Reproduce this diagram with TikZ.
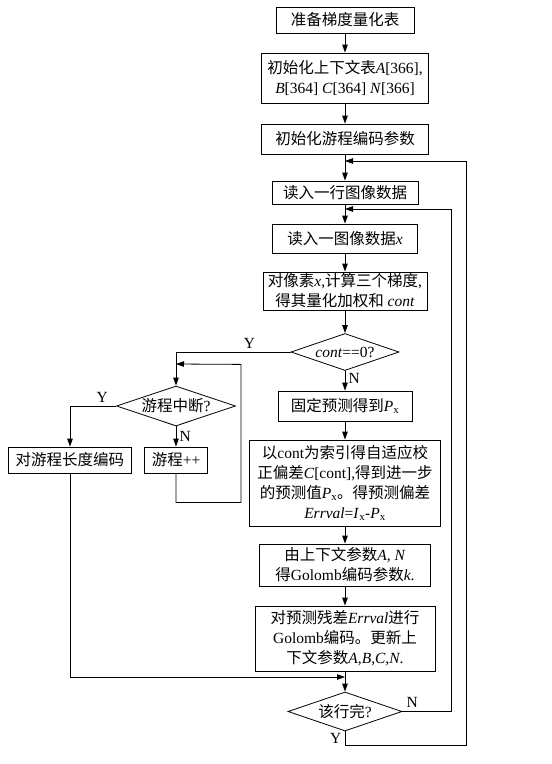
\documentclass[tikz,border=0pt]{standalone}
\usepackage{fontspec}
\setmainfont{Liberation Serif}
\newfontfamily\cjk{Noto Sans CJK SC}
\newcommand{\zh}[1]{{\cjk #1}}
\usetikzlibrary{shapes.geometric, arrows.meta}

\begin{document}
\begin{tikzpicture}[x=1pt, y=-1pt, font=\fontsize{15.5}{20}\selectfont,
                            box/.style={rectangle, draw, line width=0.8pt, align=center, inner sep=0pt},
                            decision/.style={diamond, draw, line width=0.8pt, aspect=3, inner sep=0pt},
                            line/.style={line width=0.8pt, -{Triangle[length=8pt, width=5.5pt]}}]
                            \useasboundingbox (0, 0) rectangle (552, 764);

                            \node (prep)[box, minimum width=138pt, minimum height=26pt] at (345, 20) {\zh{准备梯度量化表}};
                            \node (initctx)[box, minimum width=167pt, minimum height=50pt] at (345, 78) {\zh{初始化上下文表}\textit{A}[366],\\\textit{B}[364] \textit{C}[364] \textit{N}[366]};
                            \node (initrun)[box, minimum width=167pt, minimum height=30pt] at (345, 139) {\zh{初始化游程编码参数}};
                            \node (readrow)[box, minimum width=146pt, minimum height=23pt] at (345, 192.5) {\zh{读入一行图像数据}};
                            \node (readpix)[box, minimum width=145pt, minimum height=29pt] at (345, 238.5) {\zh{读入一图像数据}\textit{x}};
                            \node (grad)[box, minimum width=164pt, minimum height=38pt] at (345, 291) {\zh{对像素}\textit{x},\zh{计算三个梯度},\\\zh{得其量化加权和} \textit{cont}};
                            \node (cont)[decision, minimum width=108pt, minimum height=37pt] at (345, 352) {\textit{cont}==0?};
                            \node (fixed)[box, minimum width=134pt, minimum height=30pt] at (345, 406) {\zh{固定预测得到}\textit{P}\textsubscript{x}};
                            \node (adapt)[box, minimum width=191pt, minimum height=86pt] at (345, 483) {\zh{以}cont\zh{为索引得自适应校}\\\zh{正偏差}\textit{C}[cont],\zh{得到进一步}\\\zh{的预测值}\textit{P}\textsubscript{x}\zh{。得预测偏差}\\\textit{Errval}=\textit{I}\textsubscript{x}-\textit{P}\textsubscript{x}};
                            \node (golk)[box, minimum width=171pt, minimum height=42pt] at (345, 565) {\zh{由上下文参数}\textit{A}, \textit{N}\\\zh{得}Golomb\zh{编码参数}\textit{k}.};
                            \node (encode)[box, minimum width=180pt, minimum height=65pt] at (345, 638.5) {\zh{对预测残差}\textit{Errval}\zh{进行}\\Golomb\zh{编码。更新上}\\\zh{下文参数}\textit{A},\textit{B},\textit{C},\textit{N}.};
                            \node (rowend)[decision, minimum width=114pt, minimum height=39pt] at (345, 711.5) {\zh{该行完}?};
                            \node (runbrk)[decision, minimum width=119pt, minimum height=40pt] at (176, 406) {\zh{游程中断}?};
                            \node (runenc)[box, minimum width=123pt, minimum height=26pt] at (70, 460) {\zh{对游程长度编码}};
                            \node (runinc)[box, minimum width=63pt, minimum height=26pt] at (176, 460) {\zh{游程}++};

                            \coordinate (joinrow) at (345, 161);
                            \coordinate (joinpix) at (345, 209);
                            \coordinate (joinrun) at (176, 364);
                            \coordinate (joinend) at (345, 677);

                            \draw[line] (prep) -- (initctx);
                            \draw[line] (initctx) -- (initrun);
                            \draw[line] (initrun) -- (readrow);
                            \draw[line] (readrow) -- (readpix);
                            \draw[line] (readpix) -- (grad);
                            \draw[line] (grad) -- (cont);
                            \draw[line] (cont) -- node[pos=0.4, right]{N} (fixed);
                            \draw[line] (fixed) -- (adapt);
                            \draw[line] (adapt) -- (golk);
                            \draw[line] (golk) -- (encode);
                            \draw[line] (encode) -- (rowend);
                            \draw[line] (cont.west) -| node[pos=0.18, above]{Y} (runbrk.north);
                            \draw[line] (runbrk.west) -| node[pos=0.15, above]{Y} (runenc.north);
                            \draw[line] (runbrk) -- node[pos=0.5, right]{N} (runinc);
                            \draw[line] (runinc.south) -- ++(0, 29) -| ++(65, -138) -- (joinrun);
                            \draw[line] (runenc.south) |- (joinend);
                            \draw[line] (rowend.east) -- node[pos=0.2, above]{N} ++(49, 0) |- (joinpix);
                            \draw[line] (rowend.south) -- node[left]{Y} ++(0, 14) -- ++(121, 0) |- (joinrow);

                        \end{tikzpicture}
\end{document}
